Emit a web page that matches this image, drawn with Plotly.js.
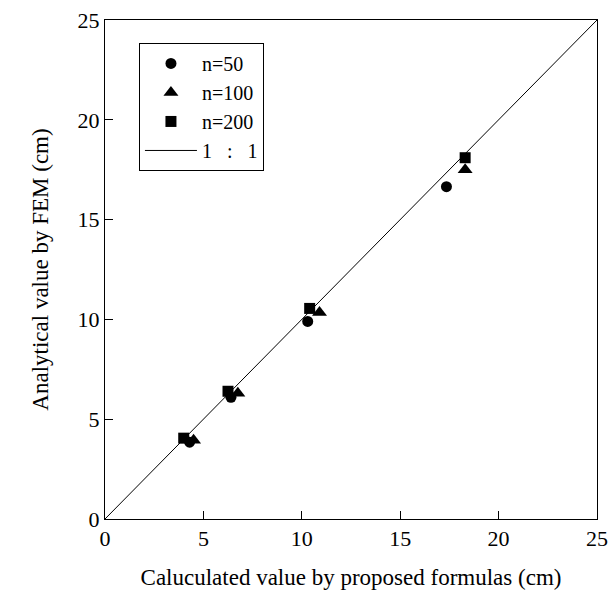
<!DOCTYPE html>
<html>
<head>
<meta charset="utf-8">
<script src="https://cdn.plot.ly/plotly-3.0.1.min.js"></script>
<style>html,body{margin:0;padding:0;background:#fff;}#chart{width:608px;height:602px;}</style>
</head>
<body>
<div id="chart"></div>
<script>
// Calculated value by proposed formulas (cm) vs analytical value by FEM (cm)
const n50_x = [4.3, 6.4, 10.3, 17.35];
const n50_y = [3.85, 6.1, 9.9, 16.65];
const n100_x = [4.5, 6.75, 10.9, 18.3];
const n100_y = [3.95, 6.3, 10.35, 17.5];
const n200_x = [4.0, 6.25, 10.4, 18.3];
const n200_y = [4.05, 6.4, 10.55, 18.1];
const line_x = [0, 25];
const line_y = [0, 25];
const seriesNames = ['n=50', 'n=100', 'n=200', '1\u00a0\u00a0\u00a0:\u00a0\u00a0\u00a01'];
const tickVals = [0, 5, 10, 15, 20, 25];

const FONT = 'Liberation Serif';

const traces = [
  {x: n50_x, y: n50_y, name: seriesNames[0], type: 'scatter', mode: 'markers',
   marker: {symbol: 'circle', size: 11, color: '#000'}},
  {x: n100_x, y: n100_y, name: seriesNames[1], type: 'scatter', mode: 'markers',
   marker: {symbol: 'triangle-up', size: 13, color: '#000'}},
  {x: n200_x, y: n200_y, name: seriesNames[2], type: 'scatter', mode: 'markers',
   marker: {symbol: 'square', size: 11, color: '#000'}},
  {x: line_x, y: line_y, name: seriesNames[3], type: 'scatter', mode: 'lines',
   line: {color: '#000', width: 1}}
];

function axis(titleText, standoff) {
  return {
    range: [0, 25], tickvals: tickVals, ticks: 'inside', ticklen: 8, tickwidth: 1,
    tickcolor: '#000', showline: true, linecolor: '#000', linewidth: 1, mirror: true,
    showgrid: false, zeroline: false, ticklabeloverflow: 'allow',
    tickfont: {family: FONT, size: 22, color: '#000'},
    title: {text: titleText, font: {family: FONT, size: 23, color: '#000'}, standoff: standoff}
  };
}

const layout = {
  width: 608, height: 602,
  margin: {l: 105, r: 11, t: 20, b: 83},
  paper_bgcolor: '#fff', plot_bgcolor: '#fff',
  font: {family: FONT, color: '#000', size: 22},
  showlegend: true,
  legend: {x: 0.069, y: 0.954, xanchor: 'left', yanchor: 'top',
           bordercolor: '#000', borderwidth: 1, bgcolor: '#fff', itemwidth: 52,
           font: {family: FONT, size: 20, color: '#000'}, tracegroupgap: 0},
  xaxis: axis('Caluculated value by proposed formulas (cm)', 18),
  yaxis: axis('Analytical value by FEM (cm)', 22)
};

Plotly.newPlot('chart', traces, layout, {displayModeBar: false, staticPlot: true});
</script>
</body>
</html>
